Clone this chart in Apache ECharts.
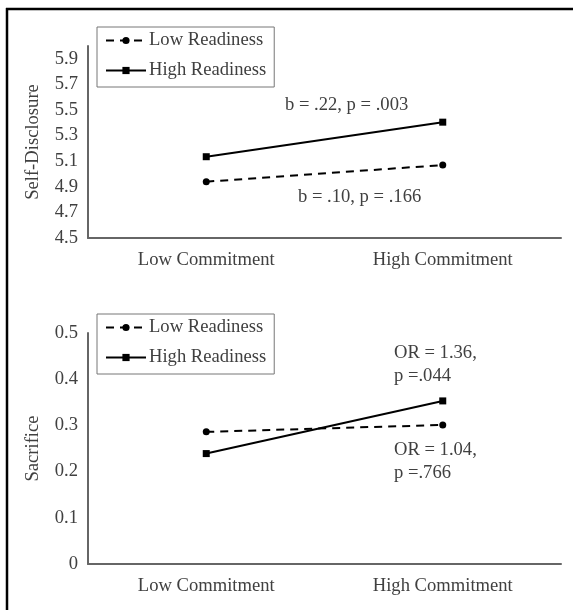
<!DOCTYPE html>
<html>
<head>
<meta charset="utf-8">
<script src="https://cdn.jsdelivr.net/npm/echarts@6/dist/echarts.min.js"></script>
<style>html,body{margin:0;padding:0;background:#fff}#c{width:573px;height:610px}</style>
</head>
<body>
<div id="c"></div>
<script>
const categories = ['Low Commitment', 'High Commitment'];
const seriesNames = ['Low Readiness', 'High Readiness'];
// Top panel: Self-Disclosure
const disclosureLow = [4.94, 5.07];
const disclosureHigh = [5.135, 5.405];
const disclosureTicks = [4.5, 4.7, 4.9, 5.1, 5.3, 5.5, 5.7, 5.9];
// Bottom panel: Sacrifice
const sacrificeLow = [0.286, 0.301];
const sacrificeHigh = [0.239, 0.353];
const sacrificeTicks = [0, 0.1, 0.2, 0.3, 0.4, 0.5];
const topNotes = ['b = .22, p = .003', 'b = .10, p = .166'];
const bottomNotes = ['OR = 1.36,\np =.044', 'OR = 1.04,\np =.766'];

const FONT = '"Liberation Serif", "Times New Roman", serif';
const FS = 18.6;
const TXT = '#404040';
const chart = echarts.init(document.getElementById('c'), null, {renderer: 'canvas'});

function xAxis(gi) {
  return {
    type: 'category', gridIndex: gi, data: categories, boundaryGap: true,
    axisLine: {show: true, lineStyle: {color: '#666', width: 2}},
    axisTick: {show: false},
    axisLabel: {color: TXT, fontFamily: FONT, fontSize: FS, margin: 13},
    splitLine: {show: false}
  };
}
function yAxis(gi, name, min, max, ticks, fmt) {
  return {
    type: 'value', gridIndex: gi, min: min, max: max,
    name: name, nameLocation: 'middle', nameGap: 45,
    nameTextStyle: {color: TXT, fontFamily: FONT, fontSize: FS},
    axisLine: {show: true, lineStyle: {color: '#666', width: 2}},
    axisTick: {show: false},
    splitLine: {show: false},
    axisLabel: {color: TXT, fontFamily: FONT, fontSize: FS, margin: 10, customValues: ticks, formatter: fmt}
  };
}
function line(name, gi, data, dashed, symbol) {
  return {
    name: name, type: 'line', xAxisIndex: gi, yAxisIndex: gi, data: data,
    symbol: symbol, symbolSize: 7,
    showSymbol: true,
    lineStyle: {color: '#000', width: 2, type: dashed ? [8, 6] : 'solid'},
    itemStyle: {color: '#000'},
    emphasis: {disabled: true},
    animation: false
  };
}
function legend(top) {
  return {
    orient: 'vertical', left: 97, top: top,
    data: seriesNames,
    itemWidth: 40, itemHeight: 9, itemGap: 11,
    borderColor: '#777', borderWidth: 1, borderRadius: 0,
    padding: [4, 8, 7, 8],
    textStyle: {color: TXT, fontFamily: FONT, fontSize: FS, lineHeight: 19, padding: [0, 0, 0, -2]},
    selectedMode: false
  };
}
function note(text, x, y, align) {
  return {
    type: 'text', left: x, top: y,
    style: {text: text, fill: TXT, font: FS + 'px ' + FONT, textAlign: align || 'left', lineHeight: 23}
  };
}

chart.setOption({
  animation: false,
  grid: [
    {left: 88, right: 12, top: 46, height: 192},
    {left: 88, right: 12, top: 333, height: 231}
  ],
  xAxis: [xAxis(0), xAxis(1)],
  yAxis: [
    yAxis(0, 'Self-Disclosure', 4.5, 6.0, disclosureTicks, v => v.toFixed(1)),
    yAxis(1, 'Sacrifice', 0, 0.5, sacrificeTicks, v => v === 0 ? '0' : v.toFixed(1))
  ],
  legend: [legend(27), legend(314)],
  series: [
    line(seriesNames[0], 0, disclosureLow, true, 'circle'),
    line(seriesNames[1], 0, disclosureHigh, false, 'rect'),
    line(seriesNames[0], 1, sacrificeLow, true, 'circle'),
    line(seriesNames[1], 1, sacrificeHigh, false, 'rect')
  ],
  graphic: [
    {type: 'line', shape: {x1: 6, y1: 9, x2: 573, y2: 9}, style: {stroke: '#000', lineWidth: 2.5}},
    {type: 'line', shape: {x1: 7, y1: 8, x2: 7, y2: 610}, style: {stroke: '#000', lineWidth: 2.5}},
    note(topNotes[0], 285, 94),
    note(topNotes[1], 298, 186),
    note(bottomNotes[0], 394, 342),
    note(bottomNotes[1], 394, 439)
  ]
});
</script>
</body>
</html>
